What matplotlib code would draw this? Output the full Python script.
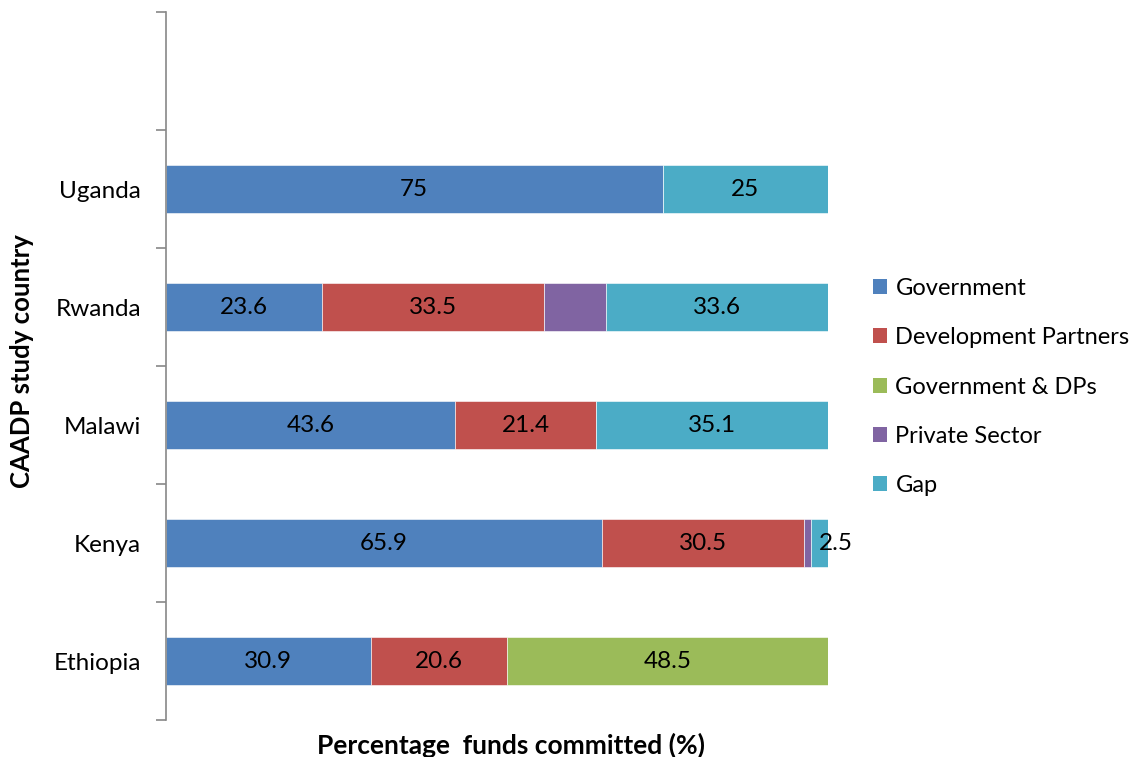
import numpy as np
import matplotlib.pyplot as plt
from matplotlib.patches import Patch

# Countries from bottom to top, the top slot stays empty
countries = ['Ethiopia', 'Kenya', 'Malawi', 'Rwanda', 'Uganda']

series_names = ['Government', 'Development Partners', 'Government & DPs',
                'Private Sector', 'Gap']
colors = ['#4F81BD', '#C0504D', '#9BBB59', '#8064A2', '#4BACC6']

government = [30.9, 65.9, 43.6, 23.6, 75.0]
dev_partners = [20.6, 30.5, 21.4, 33.5, 0.0]
gov_and_dps = [48.5, 0.0, 0.0, 0.0, 0.0]
private_sector = [0.0, 1.1, 0.0, 9.3, 0.0]
gap = [0.0, 2.5, 35.1, 33.6, 25.0]

series = [government, dev_partners, gov_and_dps, private_sector, gap]
# private sector values carry no label in the original
show_labels = [True, True, True, False, True]

plt.rcParams['font.family'] = ['Lato', 'DejaVu Sans']
fs = 17.5

fig = plt.figure(figsize=(11.42, 7.57), dpi=100)
ax = fig.add_axes([166 / 1142, 37 / 757, 662 / 1142, 708 / 757])

y = np.arange(len(countries))
left = np.zeros(len(countries))
for vals, name, col, lab in zip(series, series_names, colors, show_labels):
    vals = np.array(vals)
    ax.barh(y, vals, left=left, height=0.4, color=col, edgecolor='white',
            linewidth=0.4)
    if lab:
        for i, v in enumerate(vals):
            if v <= 0:
                continue
            if v < 5:
                # small segment: label sits just right of the segment start
                ax.text(left[i] + v * 0.45, y[i], f'{v:g}', ha='left',
                        va='center', fontsize=fs)
            else:
                ax.text(left[i] + v / 2, y[i], f'{v:g}', ha='center',
                        va='center', fontsize=fs)
    left += vals

ax.set_xlim(0, 100)
ax.set_ylim(-0.5, len(countries) + 0.5)

ax.set_yticks(y)
ax.set_yticklabels(countries, fontsize=fs)
ax.tick_params(axis='y', which='major', length=0, pad=18)
ax.set_yticks(np.arange(-0.5, len(countries) + 1), minor=True)
ax.tick_params(axis='y', which='minor', length=7, color='#888888', width=1.2)
ax.set_xticks([])

for s in ['top', 'right', 'bottom']:
    ax.spines[s].set_visible(False)
ax.spines['left'].set_color('#888888')
ax.spines['left'].set_linewidth(1.2)

fig.text(22 / 1142, 1 - 361 / 757, 'CAADP study country', rotation=90,
         ha='center', va='center', fontsize=18.5, fontweight='bold')
fig.text(511 / 1142, 1 - 745 / 757, 'Percentage  funds committed (%)',
         ha='center', va='center', fontsize=19, fontweight='bold')

handles = [Patch(facecolor=c, edgecolor='none') for c in colors]
fig.legend(handles, series_names, loc='center left',
           bbox_to_anchor=(873 / 1142, 1 - 387 / 757), frameon=False,
           fontsize=17, handlelength=0.6, handleheight=0.6, borderpad=0,
           borderaxespad=0, handletextpad=0.35, labelspacing=1.2)

fig.savefig('out.png', dpi=100)
